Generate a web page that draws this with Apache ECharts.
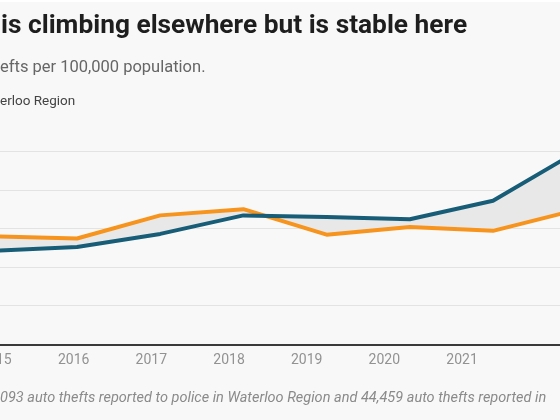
<!DOCTYPE html>
<html>
<head>
<meta charset="utf-8">
<script src="https://cdn.jsdelivr.net/npm/echarts@6/dist/echarts.min.js"></script>
<style>
html,body{margin:0;padding:0;background:#f8f8f8;}
#chart{width:560px;height:420px;}
</style>
</head>
<body>
<div id="chart"></div>
<script>
const years = ['2015','2016','2017','2018','2019','2020','2021','2022'];
const waterloo = [140, 137, 167, 175, 142, 152, 147, 174];
const otherArea = [121, 126, 143, 167, 165, 162, 186, 249];
const yTicks = [0, 50, 100, 150, 200, 250];

const titleText = 'is climbing elsewhere but is stable here';
const subtitleText = 'efts per 100,000 population.';
const legendText = 'erloo Region';
const footerText = '093 auto thefts reported to police in Waterloo Region and 44,459 auto thefts reported in';

const BLUE = '#175d77';
const ORANGE = '#f7941d';

const chart = echarts.init(document.getElementById('chart'), null, {renderer: 'canvas'});

const option = {
  backgroundColor: '#f8f8f8',
  animation: false,
  textStyle: {fontFamily: 'Roboto'},
  grid: [
    {left: -6.2, right: -16.2, top: 151.3, bottom: 75.7, containLabel: false, outerBoundsMode: 'none'},
    {left: -4, right: 20.3, top: 151.3, bottom: 75.7, containLabel: false, outerBoundsMode: 'none'}
  ],
  xAxis: [
    {
      type: 'category', gridIndex: 0, data: years, boundaryGap: false,
      axisLine: {show: true, lineStyle: {color: '#3a3a3a', width: 2}},
      axisTick: {show: false}, axisLabel: {show: false}, splitLine: {show: false}
    },
    {
      type: 'category', gridIndex: 1, data: years, boundaryGap: false,
      axisLine: {show: false}, axisTick: {show: false},
      axisLabel: {show: true, color: '#929292', fontSize: 14, margin: 9, fontFamily: 'Roboto',
                  showMinLabel: true, showMaxLabel: false, hideOverlap: false},
      splitLine: {show: false}
    }
  ],
  yAxis: [
    {
      type: 'value', gridIndex: 0, min: yTicks[0], max: yTicks[yTicks.length - 1], interval: 50,
      axisLine: {show: false}, axisTick: {show: false}, axisLabel: {show: false},
      splitLine: {show: true, lineStyle: {color: '#e3e3e3', width: 1}}
    },
    {
      type: 'value', gridIndex: 1, min: 0, max: 250, interval: 50, show: false
    }
  ],
  series: [
    {
      type: 'custom',
      xAxisIndex: 0, yAxisIndex: 0,
      data: [0],
      z: 1,
      silent: true,
      renderItem: function (params, api) {
        const pts = [];
        for (let i = 0; i < years.length; i++) pts.push(api.coord([i, waterloo[i]]));
        for (let i = years.length - 1; i >= 0; i--) pts.push(api.coord([i, otherArea[i]]));
        return {
          type: 'polygon',
          shape: {points: pts},
          style: {fill: '#e8e8e8', stroke: null}
        };
      }
    },
    {
      name: 'Waterloo Region',
      type: 'line', xAxisIndex: 0, yAxisIndex: 0,
      data: waterloo, symbol: 'none', z: 3,
      lineStyle: {color: ORANGE, width: 4}
    },
    {
      name: 'Other',
      type: 'line', xAxisIndex: 0, yAxisIndex: 0,
      data: otherArea, symbol: 'none', z: 4,
      lineStyle: {color: BLUE, width: 4}
    }
  ],
  graphic: [
    {type: 'rect', left: 0, top: 0, shape: {width: 560, height: 2}, style: {fill: '#ffffff'}, silent: true},
    {type: 'text', left: 1, top: 13, style: {text: titleText, font: 'bold 26.3px Roboto', fill: '#1e1e1e'}},
    {type: 'text', left: 0, top: 59, style: {text: subtitleText, font: '16.5px Roboto', fill: '#666666'}},
    {type: 'text', left: 0, top: 95, style: {text: legendText, font: '13.5px Roboto', fill: '#444444'}},
    {type: 'text', left: 0, top: 391, style: {text: footerText, font: 'italic 14.5px Roboto', fill: '#8a8a8a'}}
  ]
};
chart.setOption(option);
</script>
</body>
</html>
